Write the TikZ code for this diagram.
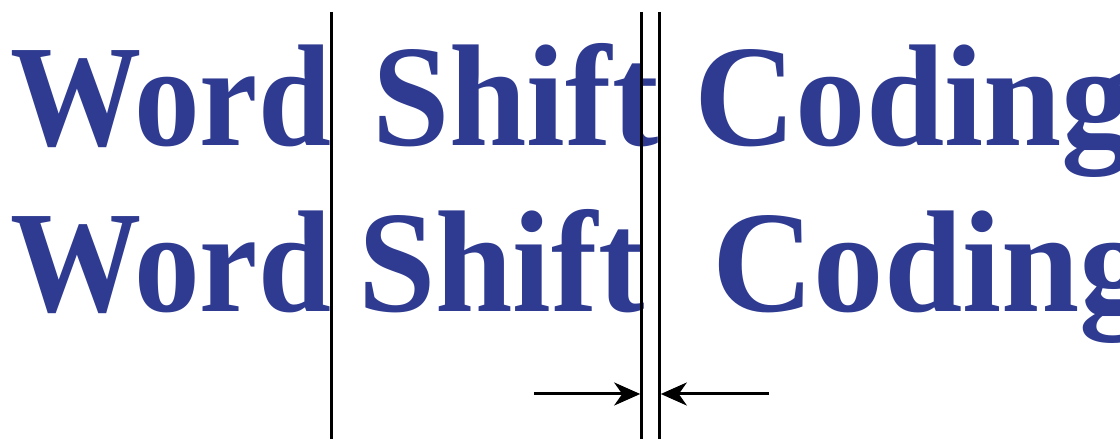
\documentclass[tikz,border=0pt]{standalone}
\usepackage{fontspec}
\setmainfont{Liberation Serif}
\usetikzlibrary{arrows.meta}
\definecolor{wordblue}{RGB}{46,59,145}
\tikzset{
  wordtxt/.style={anchor=base west, inner sep=0pt, text=wordblue, font=\fontsize{145}{150}\selectfont\bfseries},
  rule/.style={draw=black, line width=2.5pt},
  gaparrow/.style={draw=black, line width=3pt, -{Stealth[length=26pt, width=23pt, inset=8pt]}}
}
\begin{document}
\begin{tikzpicture}[x=1pt,y=1pt]
\useasboundingbox (0,0) rectangle (1120,439);
\clip (0,0) rectangle (1120,439);
% line 1
\node[wordtxt] (w1) at (10,293) {\scalebox{0.905}[1]{Word}};
\node[wordtxt] (s1) at (372,293) {\scalebox{0.96}[1]{Shift}};
\node[wordtxt] (c1) at (694,293) {\scalebox{0.97}[1]{Coding}};
% line 2
\node[wordtxt] (w2) at (10,127) {\scalebox{0.905}[1]{Word}};
\node[wordtxt] (s2) at (358,127) {\scalebox{0.96}[1]{Shift}};
\node[wordtxt] (c2) at (712,127) {\scalebox{0.97}[1]{Coding}};
% vertical rules
\coordinate (r1t) at (331.5,427);
\coordinate (r1b) at (331.5,0);
\coordinate (r2t) at (641.5,427);
\coordinate (r2b) at (641.5,0);
\coordinate (r3t) at (659.5,427);
\coordinate (r3b) at (659.5,0);
\draw[rule] (r1t) -- (r1b);
\draw[rule] (r2t) -- (r2b);
\draw[rule] (r3t) -- (r3b);
% arrows
\coordinate (a1s) at (534,45);
\coordinate (a1e) at (640.2,45);
\coordinate (a2s) at (769,45);
\coordinate (a2e) at (660.8,45);
\draw[gaparrow] (a1s) -- (a1e);
\draw[gaparrow] (a2s) -- (a2e);
\end{tikzpicture}
\end{document}
